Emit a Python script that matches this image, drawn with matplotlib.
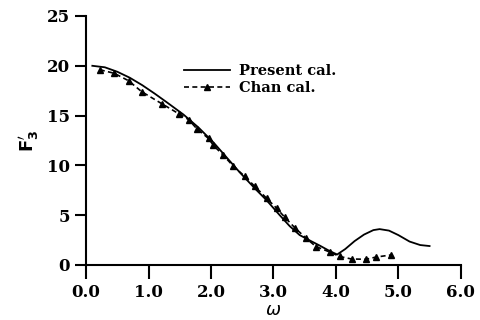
import matplotlib
matplotlib.use("Agg")
import matplotlib.pyplot as plt
import numpy as np

# Present calculation (solid line)
present_w = [0.1, 0.3, 0.5, 0.7, 0.9, 1.1, 1.3, 1.56, 1.8, 2.04, 2.25, 2.46, 2.7, 2.89, 3.1, 3.26, 3.42, 3.6, 3.74, 3.9, 4.02,
             4.15, 4.3, 4.45, 4.6, 4.7, 4.85, 5.0, 5.18, 5.35, 5.5]
present_f = [20.0, 19.85, 19.4, 18.8, 18.05, 17.2, 16.3, 15.1, 13.8, 12.3, 10.8, 9.3, 7.7, 6.5, 5.0, 3.9, 3.0, 2.4, 1.95, 1.4, 1.05,
             1.6, 2.4, 3.05, 3.5, 3.6, 3.45, 3.0, 2.35, 2.0, 1.9]

# Chan calculation (triangles, dashed)
chan_w = [0.22, 0.45, 0.68, 0.89, 1.21, 1.48, 1.64, 1.77, 1.96, 2.04, 2.2, 2.36, 2.54, 2.7, 2.89, 3.05, 3.18,
          3.34, 3.52, 3.68, 3.9, 4.06, 4.25, 4.48, 4.65, 4.88]
chan_f = [19.6, 19.25, 18.5, 17.4, 16.2, 15.2, 14.6, 13.7, 12.7, 12.0, 11.0, 9.9, 8.9, 7.9, 6.7, 5.7, 4.8,
          3.75, 2.7, 1.85, 1.3, 0.85, 0.6, 0.57, 0.8, 1.0]

x_ticks = [0.0, 1.0, 2.0, 3.0, 4.0, 5.0, 6.0]
x_labels = ["0.0", "1.0", "2.0", "3.0", "4.0", "5.0", "6.0"]
y_ticks = [0, 5, 10, 15, 20, 25]

font = "DejaVu Serif"
fig = plt.figure(figsize=(4.81, 3.2), dpi=100)
ax = fig.add_axes([0.179, 0.172, 0.779, 0.778])

ax.plot(present_w, present_f, color="black", lw=1.3, label="Present cal.")
ax.plot(chan_w, chan_f, color="black", lw=1.2, ls=(0, (3, 2)), marker="^", ms=4.5,
        label="Chan cal.")

ax.set_xlim(0, 6)
ax.set_ylim(0, 25)
ax.spines["top"].set_visible(False)
ax.spines["right"].set_visible(False)
for s in ["left", "bottom"]:
    ax.spines[s].set_linewidth(1.5)
ax.set_xticks(x_ticks)
ax.set_xticklabels(x_labels)
ax.set_yticks(y_ticks)
ax.tick_params(axis="x", direction="out", length=10, width=1.5)
ax.tick_params(axis="y", direction="out", length=8, width=1.5)
for lab in ax.get_xticklabels() + ax.get_yticklabels():
    lab.set_fontfamily(font)
    lab.set_fontweight("bold")
    lab.set_fontsize(12)

ax.set_xlabel(r"$\omega$", fontsize=13, labelpad=0)
ax.set_ylabel(r"$\mathbf{F_3'}$", fontsize=13, labelpad=4)

leg = ax.legend(loc="upper left", bbox_to_anchor=(0.225, 0.86), frameon=False,
                handlelength=3.2, handletextpad=0.6, labelspacing=0.2,
                prop={"family": font, "weight": "bold", "size": 10.5})

fig.savefig("out.png", dpi=100)
